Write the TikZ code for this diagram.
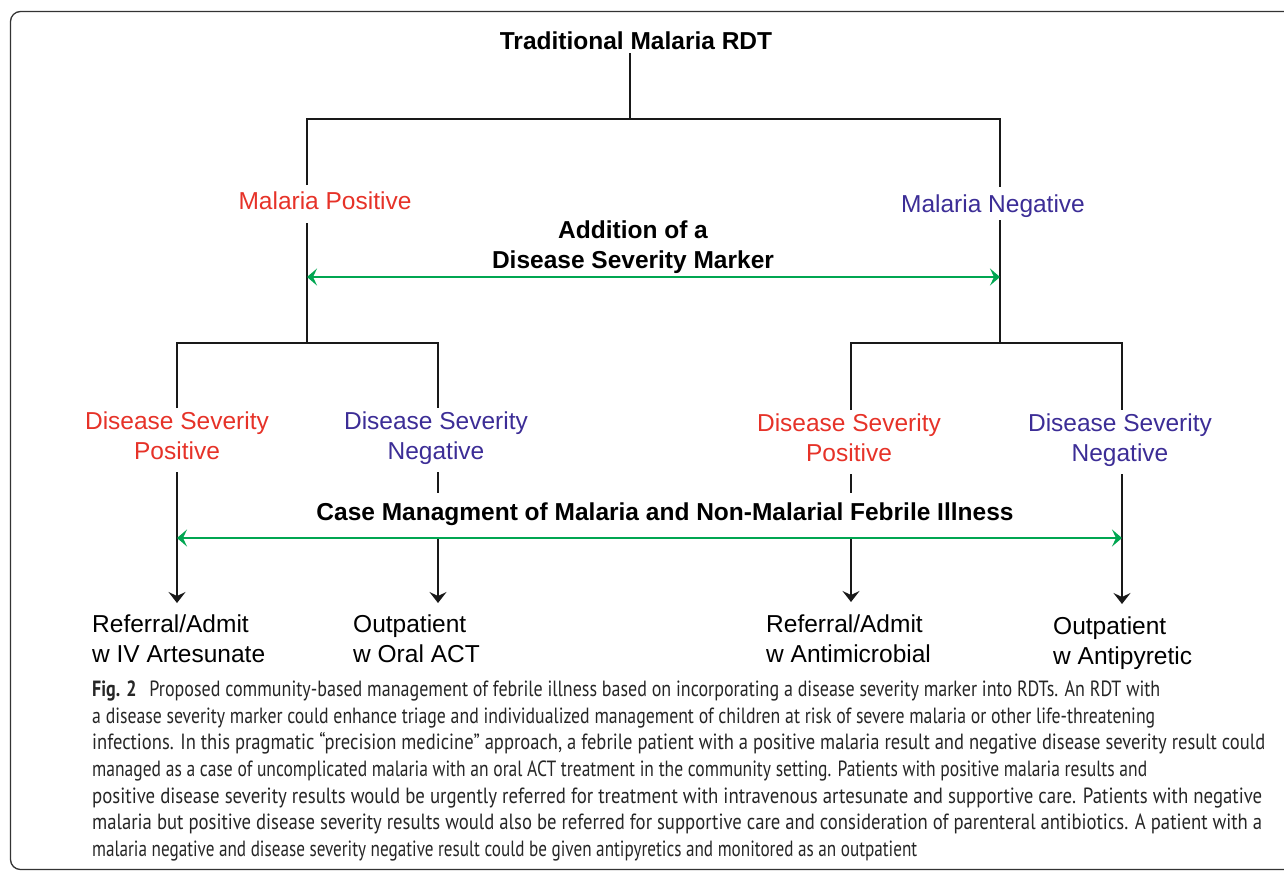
\documentclass[tikz,border=0pt]{standalone}
\usepackage{graphicx}
\usepackage{fontspec}
\setmainfont{Liberation Sans}
\newfontfamily\capfont{PT Sans}[FakeStretch=0.84]
\usetikzlibrary{arrows.meta}
\definecolor{mred}{RGB}{230,50,40}
\definecolor{mblue}{RGB}{60,45,150}
\definecolor{mgreen}{RGB}{0,166,81}
\newcommand{\capfit}[2]{\resizebox{#1pt}{\height}{#2}}
\begin{document}
\begin{tikzpicture}[x=1pt,y=-1pt,
  lbl/.style={font=\fontsize{24.5}{30}\selectfont, align=center, inner sep=0pt},
  blbl/.style={lbl, font=\fontsize{24.5}{30}\selectfont\bfseries},
  poslbl/.style={lbl, text=mred},
  neglbl/.style={lbl, text=mblue},
  outc/.style={lbl, align=left, anchor=west},
  treeline/.style={line width=2pt, black!90},
  downarrow/.style={treeline, -{Stealth[length=11pt,width=17pt,inset=4pt]}},
  spanarrow/.style={line width=2.5pt, mgreen, {Stealth[length=10pt,width=17pt,inset=4pt]}-{Stealth[length=10pt,width=17pt,inset=4pt]}},
  capline/.style={anchor=base west, inner sep=0pt, font=\capfont\fontsize{22}{26}\selectfont, text=black!85}
]
\useasboundingbox (0,0) rectangle (1284,871);
\begin{scope}
  \clip (0,0) rectangle (1284,871);
  \draw[line width=1.3pt, black!80, rounded corners=10pt] (10.5,11.5) rectangle (1300,869.5);
\end{scope}

% texts
\node[blbl] (title) at (636,41) {Traditional Malaria RDT};
\node[poslbl] (mp) at (325,201) {Malaria Positive};
\node[neglbl] (mn) at (993,206) {Malaria Negative};
\node[blbl] (add) at (633,247) {Addition of a\\Disease Severity Marker};
\node[poslbl] (dpl) at (177,436) {Disease Severity\\Positive};
\node[neglbl] (dnl) at (436,438) {Disease Severity\\Negative};
\node[poslbl] (dpr) at (849,438) {Disease Severity\\Positive};
\node[neglbl] (dnr) at (1120,440) {Disease Severity\\Negative};
\node[blbl] (case) at (665,514) {Case Managment of Malaria and Non-Malarial Febrile Illness};
\node[outc] (o1) at (92,639) {Referral/Admit\\w IV Artesunate};
\node[outc] (o2) at (353,639) {Outpatient\\w Oral ACT};
\node[outc] (o3) at (766,639) {Referral/Admit\\w Antimicrobial};
\node[outc] (o4) at (1053,643) {Outpatient\\w Antipyretic};

% junction coordinates
\coordinate (t0) at (630,53);
\coordinate (j0) at (630,119);
\coordinate (jl) at (307,119);
\coordinate (jr) at (1000,119);
\coordinate (mpt) at (307,185);
\coordinate (mpb) at (307,223);
\coordinate (mnt) at (1000,187);
\coordinate (mnb) at (1000,220);
\coordinate (kl) at (307,343);
\coordinate (kr) at (1000,343);
\coordinate (kll) at (177,343);
\coordinate (klr) at (438,343);
\coordinate (krl) at (851,343);
\coordinate (krr) at (1122,343);
\coordinate (a1t) at (177,408);
\coordinate (a2t) at (438,408);
\coordinate (a3t) at (851,410);
\coordinate (a4t) at (1122,410);
\coordinate (b1) at (177,472);
\coordinate (b2) at (438,472);
\coordinate (b3) at (851,474);
\coordinate (b4) at (1122,474);
\coordinate (c2) at (438,493);
\coordinate (c3) at (851,493);
\coordinate (g1) at (177,538);
\coordinate (g4) at (1122,538);
\coordinate (e1) at (177,603);
\coordinate (e2) at (438,603);
\coordinate (e3) at (851,602);
\coordinate (e4) at (1122,604);
\coordinate (s1) at (307,277);
\coordinate (s2) at (1000,277);

% tree
\draw[treeline] (t0) -- (j0);
\draw[treeline] (mpt) -- (jl) -- (jr) -- (mnt);
\draw[treeline] (mpb) -- (kl);
\draw[treeline] (mnb) -- (kr);
\draw[treeline] (a1t) -- (kll) -- (klr) -- (a2t);
\draw[treeline] (a3t) -- (krl) -- (krr) -- (a4t);
\draw[downarrow] (b1) -- (e1);
\draw[treeline] (b2) -- (c2);
\draw[downarrow] (g1 -| b2) -- (e2);
\draw[treeline] (b3) -- (c3);
\draw[downarrow] (g1 -| b3) -- (e3);
\draw[downarrow] (b4) -- (e4);

% green spans
\draw[spanarrow] (s1) -- (s2);
\draw[spanarrow] (g1) -- (g4);

% caption
\node[capline] (cap1) at (92,696) {\capfit{1068}{\textbf{Fig. 2}\hspace{0.6em}Proposed community-based management of febrile illness based on incorporating a disease severity marker into RDTs. An RDT with}};
\node[capline] (cap2) at (92,723) {\capfit{1063}{a disease severity marker could enhance triage and individualized management of children at risk of severe malaria or other life-threatening}};
\node[capline] (cap3) at (92,749) {\capfit{1173}{infections. In this pragmatic “precision medicine” approach, a febrile patient with a positive malaria result and negative disease severity result could}};
\node[capline] (cap4) at (92,776) {\capfit{1055}{managed as a case of uncomplicated malaria with an oral ACT treatment in the community setting. Patients with positive malaria results and}};
\node[capline] (cap5) at (92,803) {\capfit{1170}{positive disease severity results would be urgently referred for treatment with intravenous artesunate and supportive care. Patients with negative}};
\node[capline] (cap6) at (92,829) {\capfit{1170}{malaria but positive disease severity results would also be referred for supportive care and consideration of parenteral antibiotics. A patient with a}};
\node[capline] (cap7) at (92,856) {\capfit{825}{malaria negative and disease severity negative result could be given antipyretics and monitored as an outpatient}};
\end{tikzpicture}
\end{document}
